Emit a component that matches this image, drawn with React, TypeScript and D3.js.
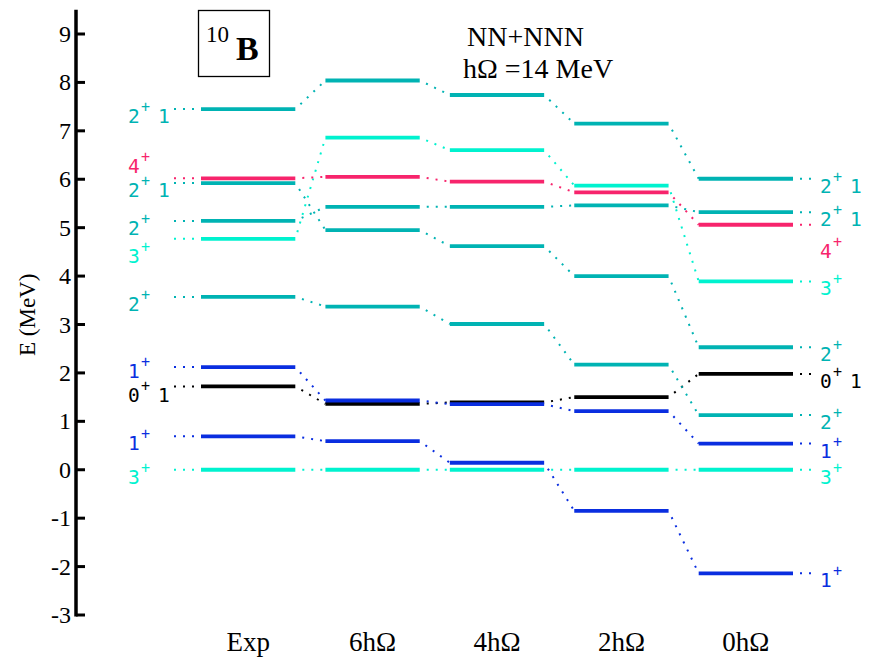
import React from "react";
import * as d3 from "d3";

// Model spaces (columns of the level scheme)
const columns = ["Exp", "6hΩ", "4hΩ", "2hΩ", "0hΩ"];

// Excitation energies (MeV) of each tracked state, one value per column
const ground3p = [0, 0, 0, 0, 0];
const first1p = [0.69, 0.59, 0.145, -0.85, -2.14];
const state0p1 = [1.72, 1.36, 1.39, 1.5, 1.98];
const second1p = [2.12, 1.43, 1.355, 1.21, 0.54];
const first2p = [3.57, 3.37, 3.01, 2.17, 1.13];
const second3p = [4.77, 6.86, 6.6, 5.87, 3.89];
const mid2p = [5.14, 5.43, 5.43, 5.46, 5.32];
const upper2p = [5.92, 4.95, 4.62, 4.0, 2.53];
const state4p = [6.02, 6.05, 5.95, 5.73, 5.06];
const top2p1 = [7.45, 8.04, 7.74, 7.15, 6.01];

// Spin-parity labels: [J, parity, isospin] on the left (Exp) and right (0hΩ)
const leftLabels = [
  ["3", "+", ""], ["1", "+", ""], ["0", "+", "1"], ["1", "+", ""], ["2", "+", ""],
  ["3", "+", ""], ["2", "+", ""], ["2", "+", "1"], ["4", "+", ""], ["2", "+", "1"],
];
const rightLabels = [
  ["3", "+", ""], ["1", "+", ""], ["0", "+", "1"], ["1", "+", ""], ["2", "+", ""],
  ["3", "+", ""], ["2", "+", "1"], ["2", "+", ""], ["4", "+", ""], ["2", "+", "1"],
];

const yTicks = [-3, -2, -1, 0, 1, 2, 3, 4, 5, 6, 7, 8, 9];

const COLORS: Record<string, string> = {
  teal: "#00b3b3",
  aqua: "#00f2cf",
  pink: "#f7246c",
  blue: "#0a2ee0",
  black: "#000000",
};

const states = [
  { values: ground3p, color: "aqua" },
  { values: first1p, color: "blue" },
  { values: state0p1, color: "black" },
  { values: second1p, color: "blue" },
  { values: first2p, color: "teal" },
  { values: second3p, color: "aqua" },
  { values: mid2p, color: "teal" },
  { values: upper2p, color: "teal" },
  { values: state4p, color: "pink" },
  { values: top2p1, color: "teal" },
];

// Vertical nudges (px) for labels that would otherwise collide
const leftNudge: Record<number, number> = { 2: 2, 3: -3, 5: 10, 8: -19 };
const rightNudge: Record<number, number> = { 8: 19 };

const W = 877;
const H = 662;

export default function App() {
  const y = d3.scaleLinear().domain([-3, 9]).range([615, 34]);
  const x = d3.scaleBand<string>().domain(columns).range([201, 793]).paddingInner(0.242).paddingOuter(0);
  const bw = x.bandwidth();
  const axisX = 76;
  const serif = "'Liberation Serif', 'Times New Roman', serif";
  const mono = "'DejaVu Sans Mono', monospace";

  const dotted = { strokeWidth: 2, strokeDasharray: "2 7", strokeDashoffset: 2, fill: "none" };

  // J, superscript parity and isospin are drawn as separate text pieces
  const labelText = (lab: string[], x0: number, yy: number, color: string, key: string) => (
    <g key={key} fill={color} fontFamily={mono}>
      <text x={x0} y={yy} fontSize={19.5}>{lab[0]}</text>
      <text x={x0 + 13} y={yy - 11} fontSize={15}>{lab[1]}</text>
      {lab[2] ? (
        <text x={x0 + 30} y={yy} fontSize={19.5}>{lab[2]}</text>
      ) : null}
    </g>
  );

  const first = columns[0];
  const last = columns[columns.length - 1];

  return (
    <svg width={W} height={H} style={{ display: "block", position: "absolute", left: 0, top: 0, background: "#fff" }}>
      <rect width={W} height={H} fill="#fff" />

      {/* energy axis */}
      <line x1={axisX} x2={axisX} y1={y(9.5)} y2={y(-3) + 1.5} stroke="#000" strokeWidth={3.5} />
      {yTicks.map((t) => (
        <g key={t}>
          <line x1={axisX} x2={axisX + 9} y1={y(t)} y2={y(t)} stroke="#000" strokeWidth={3} />
          <text x={71} y={y(t) + 8} textAnchor="end" fontFamily={serif} fontSize={24} fill="#000">
            {t}
          </text>
        </g>
      ))}
      <text
        transform={`translate(35,${y(3.2)}) rotate(-90)`}
        textAnchor="middle"
        fontFamily={serif}
        fontSize={23}
        fill="#000"
      >
        E (MeV)
      </text>

      {/* connectors between model spaces */}
      {states.map((s, si) =>
        s.values.slice(0, -1).map((v, ci) => (
          <line
            key={`c${si}-${ci}`}
            x1={(x(columns[ci]) as number) + bw}
            y1={y(v)}
            x2={x(columns[ci + 1]) as number}
            y2={y(s.values[ci + 1])}
            stroke={COLORS[s.color]}
            {...dotted}
          />
        ))
      )}

      {/* levels */}
      {states.map((s, si) =>
        s.values.map((v, ci) => (
          <line
            key={`l${si}-${ci}`}
            x1={x(columns[ci]) as number}
            x2={(x(columns[ci]) as number) + bw}
            y1={y(v)}
            y2={y(v)}
            stroke={COLORS[s.color]}
            strokeWidth={3.8}
          />
        ))
      )}

      {/* left labels with leader dots */}
      {states.map((s, si) => {
        const yy = y(s.values[0]);
        const x0 = x(first) as number;
        return (
          <g key={`ll${si}`}>
            <line x1={x0} x2={x0 - 27} y1={yy} y2={yy} stroke={COLORS[s.color]} {...dotted} />
            {labelText(leftLabels[si], 128, yy + 14 + (leftNudge[si] || 0), COLORS[s.color], `lt${si}`)}
          </g>
        );
      })}

      {/* right labels with leader dots */}
      {states.map((s, si) => {
        const yy = y(s.values[s.values.length - 1]);
        const x1 = (x(last) as number) + bw;
        return (
          <g key={`rl${si}`}>
            <line x1={x1} x2={x1 + 20} y1={yy} y2={yy} stroke={COLORS[s.color]} {...dotted} />
            {labelText(rightLabels[si], 820, yy + 14 + (rightNudge[si] || 0), COLORS[s.color], `rt${si}`)}
          </g>
        );
      })}

      {/* column captions */}
      {columns.map((c) => (
        <text
          key={c}
          x={(x(c) as number) + bw / 2}
          y={651}
          textAnchor="middle"
          fontFamily={serif}
          fontSize={27}
          fill="#000"
        >
          {c}
        </text>
      ))}

      {/* nucleus box */}
      <rect x={198.5} y={10.5} width={71} height={66} fill="none" stroke="#000" strokeWidth={1.3} />
      <text x={206} y={42} fontFamily={serif} fontSize={23} fill="#000">10</text>
      <text x={236} y={60} fontFamily={serif} fontSize={34} fontWeight="bold" fill="#000">B</text>

      {/* interaction annotation */}
      <text x={467} y={46} fontFamily={serif} fontSize={28} fill="#000">NN+NNN</text>
      <text x={463} y={78} fontFamily={serif} fontSize={28} fill="#000">hΩ =14 MeV</text>
    </svg>
  );
}
